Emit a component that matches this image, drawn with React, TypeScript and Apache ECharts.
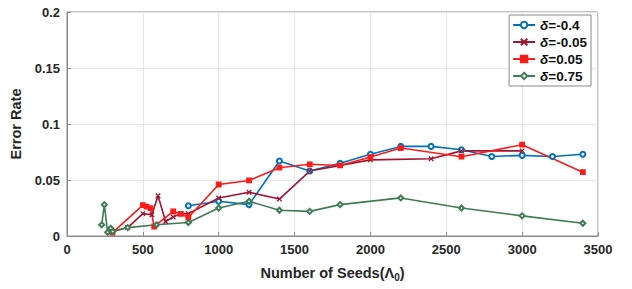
import React, { useEffect, useRef } from "react";
import * as echarts from "echarts";

const xTicks = [0, 500, 1000, 1500, 2000, 2500, 3000, 3500];
const yTicks = [0, 0.05, 0.1, 0.15, 0.2];

const seriesNames = ["δ=-0.4", "δ=-0.05", "δ=0.05", "δ=0.75"];

const blueX = [800, 1000, 1200, 1400, 1600, 1800, 2000, 2200, 2400, 2600, 2800, 3000, 3200, 3400];
const blueY = [0.027, 0.031, 0.028, 0.067, 0.058, 0.065, 0.073, 0.080, 0.080, 0.077, 0.071, 0.072, 0.071, 0.073];

const darkRedX = [300, 400, 500, 560, 600, 650, 700, 750, 800, 1000, 1200, 1400, 1600, 2000, 2400, 2600, 3000];
const darkRedY = [0.004, 0.0075, 0.020, 0.019, 0.036, 0.013, 0.017, 0.020, 0.020, 0.034, 0.039, 0.033, 0.058, 0.068, 0.069, 0.076, 0.076];

const redX = [300, 500, 525, 550, 575, 700, 750, 800, 1000, 1200, 1400, 1600, 1800, 2000, 2200, 2600, 3000, 3400];
const redY = [0.003, 0.0275, 0.0263, 0.0248, 0.0085, 0.022, 0.0197, 0.0165, 0.046, 0.0496, 0.061, 0.064, 0.063, 0.0705, 0.0785, 0.0708, 0.0815, 0.057];

const greenX = [229, 246, 268, 288, 301, 400, 590, 800, 1000, 1200, 1400, 1600, 1800, 2200, 2600, 3000, 3400];
const greenY = [0.010, 0.028, 0.0033, 0.0069, 0.004, 0.0075, 0.010, 0.012, 0.025, 0.031, 0.023, 0.022, 0.028, 0.034, 0.025, 0.018, 0.0114];

const colors = ["#0072BD", "#A2142F", "#FF1A1A", "#3F7C56"];

const zip = (xs: number[], ys: number[]) => xs.map((x, i) => [x, ys[i]]);

const FONT = "'Liberation Sans', Arial, sans-serif";

export default function App() {
  const ref = useRef<HTMLDivElement>(null);
  useEffect(() => {
    if (!ref.current) return;
    const chart = echarts.init(ref.current, undefined, { renderer: "svg" });
    const xPath = "path://M0,0L10,10M10,0L0,10";
    const mk = (name: string, xs: number[], ys: number[], color: string, symbol: string, size: number) => ({
      name,
      type: "line",
      data: zip(xs, ys),
      symbol,
      symbolSize: size,
      showAllSymbol: true,
      color,
      lineStyle: { color, width: 1.6 },
      itemStyle: { color, borderColor: color, borderWidth: 1.3 },
      emphasis: { disabled: true },
    });
    chart.setOption({
      animation: false,
      textStyle: { fontFamily: FONT },
      grid: { left: 67, right: 34, top: 12, bottom: 53, show: true, borderColor: "#8a8a8a", borderWidth: 1, backgroundColor: "#fff" },
      legend: {
        orient: "vertical",
        right: 41,
        top: 15,
        backgroundColor: "#fff",
        borderColor: "#8a8a8a",
        borderWidth: 1,
        padding: [3, 4, 3, 3],
        itemGap: 3,
        itemWidth: 22,
        itemHeight: 8,
        data: seriesNames,
        formatter: (n: string) => "{i|δ}{t|" + n.slice(1) + "}",
        textStyle: {
          fontFamily: FONT,
          rich: {
            i: { fontStyle: "italic", fontWeight: "bold", fontSize: 13.5, color: "#111", fontFamily: FONT },
            t: { fontWeight: "bold", fontSize: 13.5, color: "#111", fontFamily: FONT },
          },
        },
      },
      xAxis: {
        type: "value",
        min: 0,
        max: 3500,
        interval: 500,
        name: "{a|Number of Seeds(Λ}{s|0}{a|)}",
        nameLocation: "middle",
        nameGap: 28,
        nameTextStyle: {
          rich: {
            a: { fontWeight: "bold", fontSize: 14.5, color: "#262626", fontFamily: FONT },
            s: { fontWeight: "bold", fontSize: 10, color: "#262626", fontFamily: FONT, padding: [8, 0, 0, 0] },
          },
        },
        axisLine: { show: true, lineStyle: { color: "#8a8a8a" } },
        axisTick: { show: true, inside: true, length: 4, lineStyle: { color: "#8a8a8a" } },
        axisLabel: { fontWeight: "bold", fontSize: 13, color: "#262626", margin: 7, fontFamily: FONT, formatter: (v: number) => (xTicks.includes(v) ? String(v) : "") },
        splitLine: { show: true, lineStyle: { color: "#e6e6e6", width: 1 } },
      },
      yAxis: {
        type: "value",
        min: 0,
        max: 0.2,
        interval: 0.05,
        name: "Error Rate",
        nameLocation: "middle",
        nameGap: 39,
        nameTextStyle: { fontWeight: "bold", fontSize: 14.5, color: "#262626", fontFamily: FONT },
        axisLine: { show: true, lineStyle: { color: "#8a8a8a" } },
        axisTick: { show: true, inside: true, length: 4, lineStyle: { color: "#8a8a8a" } },
        axisLabel: { fontWeight: "bold", fontSize: 13, color: "#262626", margin: 7, fontFamily: FONT, formatter: (v: number) => { const t = yTicks.find((y) => Math.abs(y - v) < 1e-9); return t === undefined ? "" : String(t); } },
        splitLine: { show: true, lineStyle: { color: "#e6e6e6", width: 1 } },
      },
      series: [
        mk(seriesNames[0], blueX, blueY, colors[0], "emptyCircle", 5),
        mk(seriesNames[1], darkRedX, darkRedY, colors[1], xPath, 4.5),
        mk(seriesNames[2], redX, redY, colors[2], "rect", 4.5),
        mk(seriesNames[3], greenX, greenY, colors[3], "emptyDiamond", 5),
      ],
    });
    return () => chart.dispose();
  }, []);
  return <div ref={ref} style={{ width: 632, height: 289, position: "absolute", left: 0, top: 0 }} />;
}
